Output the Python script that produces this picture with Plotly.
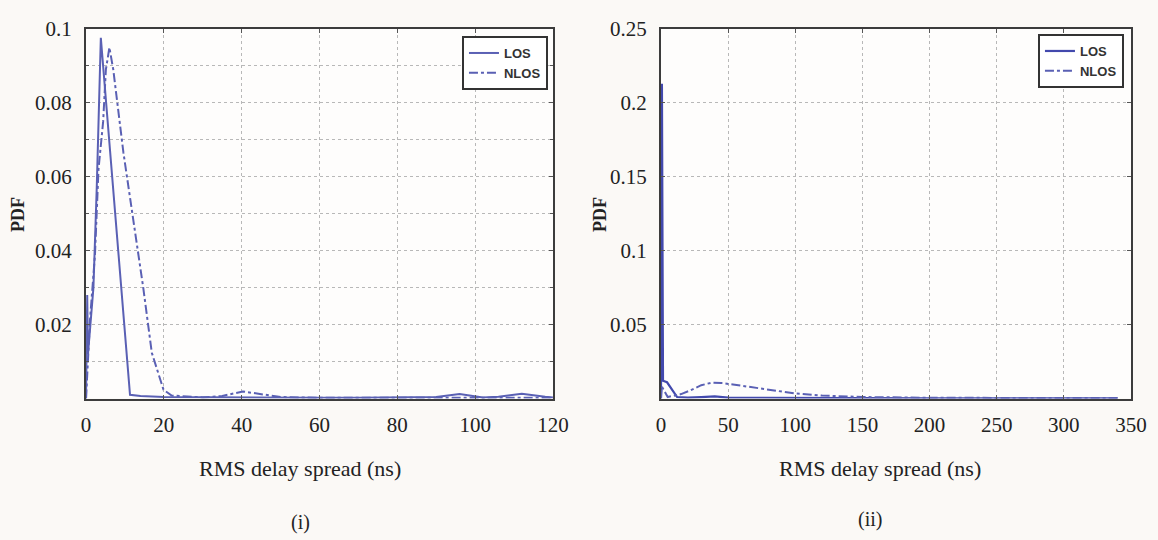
import plotly.graph_objects as go
from plotly.subplots import make_subplots

# (i) RMS delay spread PDF, 0-120 ns
los_i_x = [0, 0.3, 0.5, 1.9, 2.75, 3.8, 11.3, 14, 20, 30, 40, 50, 60, 70, 80, 90, 96, 102, 106, 112, 118, 120]
los_i_y = [0, 0.028, 0.012, 0.030, 0.057, 0.0976, 0.001, 0.0007, 0.0004, 0.0003, 0.0003, 0.0002, 0.0002,
           0.0002, 0.0002, 0.0004, 0.0012, 0.0003, 0.0005, 0.0013, 0.0005, 0.0003]
nlos_i_x = [0, 0.5, 1.0, 2.3, 3.2, 4.4, 5.1, 6.0, 7.0, 9.6, 12.2, 14.7, 16.9, 19.9, 22, 25, 30, 35, 40.3, 43,
            46.8, 50, 60, 80, 100, 120]
nlos_i_y = [0, 0.010, 0.021, 0.039, 0.062, 0.075, 0.089, 0.095, 0.089, 0.0666, 0.0484, 0.030, 0.0124, 0.0024,
            0.0008, 0.0006, 0.0003, 0.0007, 0.0019, 0.0015, 0.001, 0.0004, 0.0002, 0.0002, 0.0002, 0.0002]

# (ii) RMS delay spread PDF, 0-350 ns
los_ii_x = [0, 0.7, 1.5, 4.5, 12, 20, 30, 40, 50, 75, 100, 150, 200, 250, 300, 340]
los_ii_y = [0, 0.213, 0.012, 0.011, 0.001, 0.0006, 0.001, 0.0015, 0.0006, 0.0004, 0.0003, 0.0003, 0.0002,
            0.0002, 0.0002, 0.0002]
nlos_ii_x = [0, 0.7, 5, 10, 15, 21.6, 30, 38, 45, 53.6, 68.5, 83, 100, 120, 150, 200, 250, 300, 340]
nlos_ii_y = [0, 0.008, 0.001, 0.002, 0.003, 0.0054, 0.009, 0.0108, 0.0105, 0.0095, 0.0074, 0.0054, 0.0034,
             0.002, 0.001, 0.0005, 0.0003, 0.0003, 0.0003]

x_i_ticks = [0, 20, 40, 60, 80, 100, 120]
y_i_ticks = [0.02, 0.04, 0.06, 0.08, 0.1]
x_ii_ticks = [0, 50, 100, 150, 200, 250, 300, 350]
y_ii_ticks = [0.05, 0.1, 0.15, 0.2, 0.25]

LINE = "#5a60b4"
SERIF = "Liberation Serif"
SANS = "Liberation Sans"
TEXT = "#222222"
GRID = "#b8b8b8"

fig = make_subplots(rows=1, cols=2)

fig.add_trace(go.Scatter(x=los_i_x, y=los_i_y, mode="lines", name="LOS",
                         line=dict(color=LINE, width=2), legend="legend"), row=1, col=1)
fig.add_trace(go.Scatter(x=nlos_i_x, y=nlos_i_y, mode="lines", name="NLOS",
                         line=dict(color=LINE, width=2, dash="dashdot"), legend="legend"), row=1, col=1)
fig.add_trace(go.Scatter(x=los_ii_x, y=los_ii_y, mode="lines", name="LOS",
                         line=dict(color="#4249ad", width=2.2), legend="legend2"), row=1, col=2)
fig.add_trace(go.Scatter(x=nlos_ii_x, y=nlos_ii_y, mode="lines", name="NLOS",
                         line=dict(color=LINE, width=2, dash="dashdot"), legend="legend2"), row=1, col=2)

tick_font = dict(family=SERIF, size=21, color=TEXT)
axis_common = dict(
    showline=True, linecolor="#3c3c3c", linewidth=2, mirror="ticks",
    ticks="inside", ticklen=4, tickcolor="#555555",
    showgrid=True, gridcolor=GRID, gridwidth=1, griddash="dot",
    zeroline=False, tickfont=tick_font, ticklabelstandoff=6,
    automargin=False,
)

fig.update_xaxes(**axis_common)
fig.update_yaxes(**axis_common)

fig.update_xaxes(range=[0, 120], tickvals=x_i_ticks, domain=[0.0743, 0.4775], row=1, col=1)
fig.update_xaxes(range=[0, 350], tickvals=x_ii_ticks, domain=[0.5708, 0.9767], row=1, col=2)
fig.update_yaxes(range=[0, 0.1], tickvals=y_i_ticks, ticklabelstandoff=8,
                 minor=dict(dtick=0.01, showgrid=True, gridcolor=GRID, griddash="dot",
                            ticks="inside", ticklen=3, tickcolor="#555555"),
                 domain=[0.262, 0.9463], row=1, col=1)
fig.update_yaxes(range=[0, 0.25], tickvals=y_ii_ticks, ticklabelstandoff=8,
                 domain=[0.262, 0.9463], row=1, col=2)

legend_style = dict(
    bgcolor="#ffffff", bordercolor="#333333", borderwidth=2,
    font=dict(family=SANS, size=13, color="#333333", weight="bold"),
    xanchor="right", yanchor="top", tracegroupgap=0,
    itemwidth=30,
)
fig.update_layout(
    legend=dict(legend_style, x=0.4732, y=0.9333),
    legend2=dict(legend_style, x=0.9706, y=0.937),
)

annotations = [
    dict(text="<b>PDF</b>", x=18 / 1158, y=1 - 215 / 540, textangle=-90,
         font=dict(family=SERIF, size=18, color=TEXT)),
    dict(text="<b>PDF</b>", x=600 / 1158, y=1 - 215 / 540, textangle=-90,
         font=dict(family=SERIF, size=18, color=TEXT)),
    dict(text="RMS delay spread (ns)", x=300 / 1158, y=1 - 468 / 540,
         font=dict(family=SERIF, size=22, color=TEXT)),
    dict(text="RMS delay spread (ns)", x=880 / 1158, y=1 - 468 / 540,
         font=dict(family=SERIF, size=22, color=TEXT)),
    dict(text="(i)", x=300 / 1158, y=1 - 522 / 540,
         font=dict(family=SERIF, size=20, color=TEXT)),
    dict(text="(ii)", x=870 / 1158, y=1 - 519 / 540,
         font=dict(family=SERIF, size=20, color=TEXT)),
]
for a in annotations:
    fig.add_annotation(xref="paper", yref="paper", showarrow=False,
                       xanchor="center", yanchor="middle", **a)

fig.update_layout(
    width=1158, height=540,
    margin=dict(l=0, r=0, t=0, b=0),
    font=dict(family=SERIF, color=TEXT),
    paper_bgcolor="#fbf9f6",
    plot_bgcolor="#fefdfc",
    showlegend=True,
)

fig.write_html("out.html")
